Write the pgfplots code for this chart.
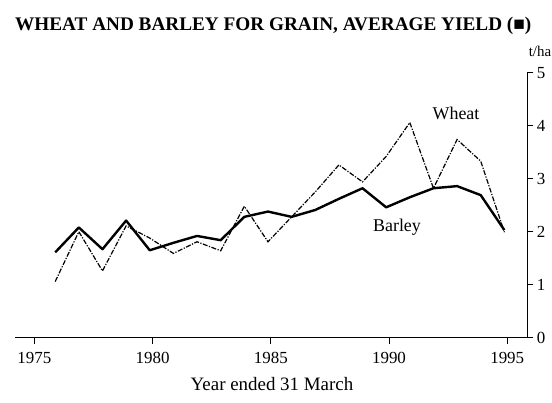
\documentclass[border=0pt]{standalone}
\usepackage{fontspec}
\setmainfont{Liberation Serif}
\usepackage{pgfplots}
\usepackage{pgfplotstable}
\pgfplotsset{compat=1.18}
\pgfplotstableread{
year barley wheat
1976 1.61 1.06
1977 2.08 2.00
1978 1.67 1.26
1979 2.21 2.11
1980 1.65 1.88
1981 1.79 1.59
1982 1.92 1.81
1983 1.84 1.64
1984 2.28 2.48
1985 2.38 1.81
1986 2.28 2.28
1987 2.41 2.75
1988 2.62 3.26
1989 2.82 2.94
1990 2.46 3.42
1991 2.65 4.06
1992 2.82 2.82
1993 2.86 3.74
1994 2.69 3.33
1995 2.03 1.99
}\datatable
\begin{document}
\begin{tikzpicture}[x=1bp,y=1bp]
\useasboundingbox (0,0) rectangle (552,402);
\begin{axis}[
 at={(15bp,64.3bp)}, anchor=south west,
 scale only axis, width=512.3bp, height=265bp,
 xmin=1974.18, xmax=1995.85, ymin=0, ymax=5,
 axis x line*=bottom, axis y line*=right,
 axis line style={line width=1.4bp},
 xtick={1975,1980,1985,1990,1995},
 ytick={0,1,2,3,4,5},
 tick align=outside,
 major tick length=6bp,
 tick style={line width=1bp, black},
 /pgf/number format/assume math mode=true,
 /pgf/number format/1000 sep={},
 ticklabel style={font=\fontsize{17}{17}\selectfont},
 xticklabel style={yshift=-5bp},
 clip=false,
]
\addplot[black, line width=2.4bp, line join=round] table[x expr=\thisrow{year}-0.12, y=barley] \datatable;
\addplot[black, line width=1.2bp, dash pattern=on 5bp off 1.5bp on 1.2bp off 1.5bp] table[x expr=\thisrow{year}-0.12, y=wheat] \datatable;
\end{axis}
\node[anchor=base west, inner sep=0, font=\bfseries\fontsize{19.3}{19.3}\selectfont] at (15,372) {WHEAT AND BARLEY FOR GRAIN, AVERAGE YIELD (■)};
\node[anchor=base, inner sep=0, font=\fontsize{15}{15}\selectfont] at (540,346) {t/ha};
\node[anchor=base, inner sep=0, font=\fontsize{18}{18}\selectfont] at (456,282.7) {Wheat};
\node[anchor=base, inner sep=0, font=\fontsize{18}{18}\selectfont] at (397,170.3) {Barley};
\node[anchor=base, inner sep=0, font=\fontsize{19}{19}\selectfont] at (272,12) {Year ended 31 March};
\end{tikzpicture}
\end{document}
